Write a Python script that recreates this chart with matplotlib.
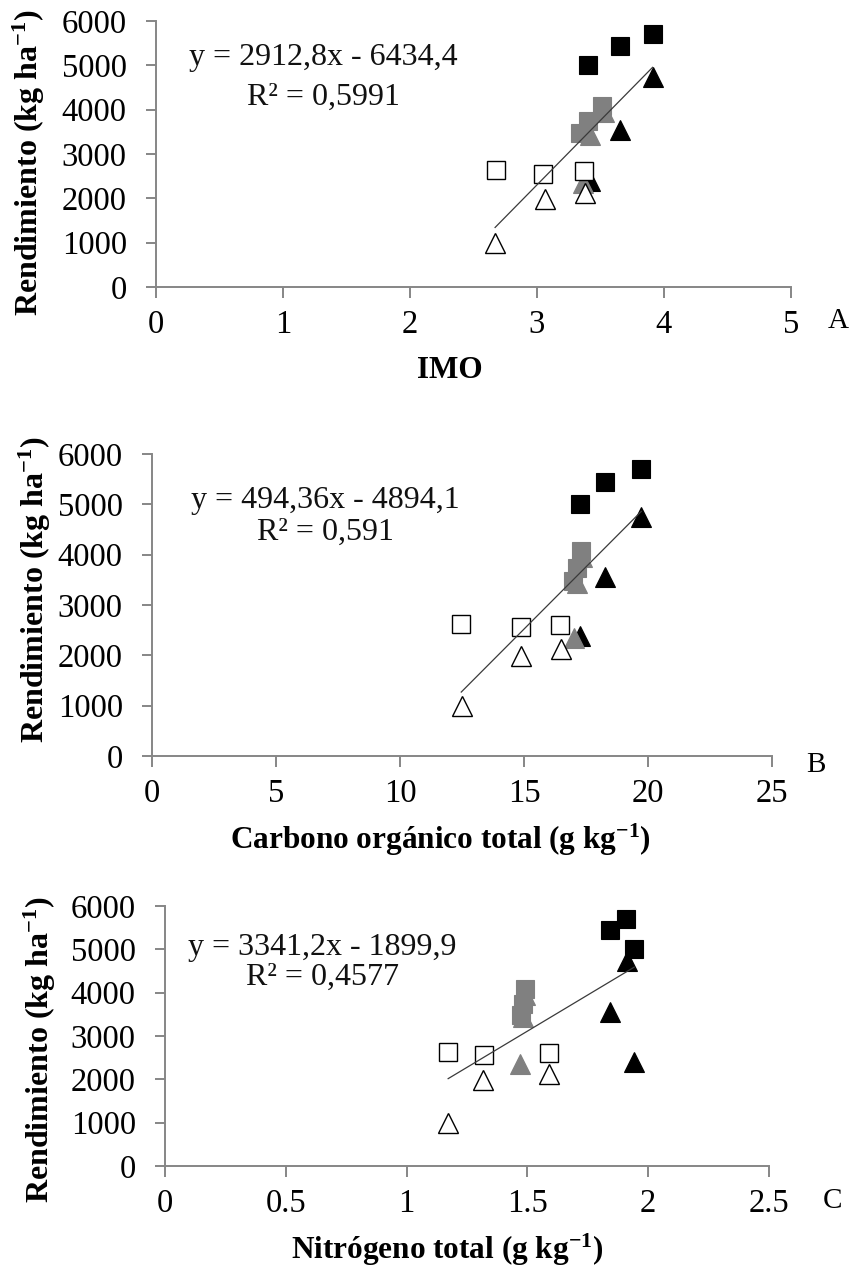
import matplotlib
matplotlib.use("Agg")
import matplotlib.pyplot as plt
import numpy as np

plt.rcParams["font.family"] = ["Liberation Serif", "DejaVu Serif"]
plt.rcParams["mathtext.fontset"] = "custom"
plt.rcParams["mathtext.rm"] = "Liberation Serif"
plt.rcParams["mathtext.it"] = "Liberation Serif:italic"
plt.rcParams["mathtext.bf"] = "Liberation Serif:bold"

# --- data: yield vs. soil indicators (3 replicates per treatment) ---
tratamiento = ["sq_black"] * 3 + ["tri_black"] * 3 + ["sq_gray"] * 3 + \
              ["tri_gray"] * 3 + ["sq_white"] * 3 + ["tri_white"] * 3

rendimiento = [5010, 5440, 5700,
               4740, 3550, 2390,
               4080, 3740, 3480,
               3950, 3430, 2350,
               2630, 2560, 2610,
               1000, 1990, 2130]

imo = [3.40, 3.65, 3.91,
       3.91, 3.65, 3.42,
       3.51, 3.40, 3.34,
       3.53, 3.42, 3.36,
       2.68, 3.05, 3.37,
       2.67, 3.06, 3.38]

carbono = [17.26, 18.28, 19.73,
           19.70, 18.27, 17.26,
           17.30, 17.15, 16.98,
           17.35, 17.14, 17.03,
           12.47, 14.88, 16.45,
           12.50, 14.88, 16.49]

nitrogeno = [1.942, 1.841, 1.910,
             1.913, 1.841, 1.942,
             1.491, 1.483, 1.473,
             1.490, 1.480, 1.469,
             1.172, 1.321, 1.590,
             1.172, 1.318, 1.591]

pendientes = [2912.8, 494.36, 3341.2]
ordenadas = [-6434.4, -4894.1, -1899.9]
r_cuadrado = [0.5991, 0.591, 0.4577]

x_titulos = ["IMO",
             r"Carbono orgánico total (g kg$^{\mathbf{-1}}$)",
             r"Nitrógeno total (g kg$^{\mathbf{-1}}$)"]
y_titulo = r"Rendimiento (kg ha$^{\mathbf{-1}}$)"
x_limites = [5, 25, 2.5]
x_pasos = [1, 5, 0.5]
letras = ["A", "B", "C"]

# --- marker styles per treatment ---
GRIS = "#808080"
estilos = {
    "tri_black": dict(marker="^", ms=15, mfc="black", mec="black", mew=0.8),
    "tri_gray": dict(marker="^", ms=15, mfc=GRIS, mec=GRIS, mew=0.8),
    "tri_white": dict(marker="^", ms=15, mfc="white", mec="black", mew=1.0),
    "sq_black": dict(marker="s", ms=13, mfc="black", mec="black", mew=0.8),
    "sq_gray": dict(marker="s", ms=13, mfc=GRIS, mec=GRIS, mew=0.8),
    "sq_white": dict(marker="s", ms=13, mfc="white", mec="black", mew=1.0),
}
orden = ["tri_black", "tri_gray", "tri_white", "sq_black", "sq_gray", "sq_white"]

W, H = 852, 1269
fig = plt.figure(figsize=(W / 100, H / 100), dpi=100)

# axes boxes in pixels: left, right, bottom, top
cajas = [(156, 791, 287, 21), (152, 772, 756, 454), (165, 769, 1166, 906)]
ecuacion_pos = [(0.263, 0.835, 0.684), (0.279, 0.821, 0.715), (0.260, 0.812, 0.696)]
xlabel_x = [0.463, 0.465, 0.467]
ylabel_px = [(29, 163), (35, 590), (40, 1050)]
letra_px = [(838, 328), (816, 772), (832, 1208)]

EJE = "#868686"
FS = 23.5

for i, xs in enumerate([imo, carbono, nitrogeno]):
    l, r, b, t = cajas[i]
    ax = fig.add_axes([l / W, 1 - b / H, (r - l) / W, (b - t) / H])
    xs_arr = np.array(xs)
    ys_arr = np.array(rendimiento)
    grp = np.array(tratamiento)
    for g in orden:
        m = grp == g
        ax.plot(xs_arr[m], ys_arr[m], linestyle="none", zorder=3, **estilos[g])

    # linear trend line from the stated equation
    xl = np.array([xs_arr.min(), xs_arr.max()])
    ax.plot(xl, pendientes[i] * xl + ordenadas[i], color="#3a3a3a", lw=0.9, zorder=4)

    ax.set_xlim(0, x_limites[i])
    ax.set_ylim(0, 6000)
    ticks = np.arange(0, x_limites[i] + 1e-9, x_pasos[i])
    ax.set_xticks(ticks)
    ax.set_xticklabels([f"{v:g}" for v in ticks])
    ax.set_yticks(np.arange(0, 6001, 1000))

    for s in ["top", "right"]:
        ax.spines[s].set_visible(False)
    for s in ["left", "bottom"]:
        ax.spines[s].set_color(EJE)
        ax.spines[s].set_linewidth(1.4)
    ax.tick_params(axis="x", direction="out", length=8, width=1.4, color=EJE,
                   labelsize=FS, pad=8.5)
    ax.tick_params(axis="y", direction="out", length=7, width=1.4, color=EJE,
                   labelsize=FS, pad=14)
    ax.patch.set_visible(False)

    ax.set_xlabel(x_titulos[i], fontsize=22.5, fontweight="bold", va="center")
    ax.xaxis.set_label_coords(xlabel_x[i], -84 / (b - t))

    yx, yy = ylabel_px[i]
    fig.text(yx / W, 1 - yy / H, y_titulo, rotation=90, fontsize=23,
             fontweight="bold", ha="center", va="center")

    ex, ey1, ey2 = ecuacion_pos[i]
    ecuacion = f"y = {pendientes[i]}x - {abs(ordenadas[i])}".replace(".", ",")
    ax.text(ex, ey1, ecuacion, transform=ax.transAxes, fontsize=23,
            ha="center", va="baseline", color="#111111")
    ax.text(ex, ey2, f"R² = {r_cuadrado[i]}".replace(".", ","), transform=ax.transAxes,
            fontsize=23, ha="center", va="baseline", color="#111111")

    lx, ly = letra_px[i]
    fig.text(lx / W, 1 - ly / H, letras[i], fontsize=21, ha="center", va="baseline")

fig.savefig("out.png", dpi=100, facecolor="white")
